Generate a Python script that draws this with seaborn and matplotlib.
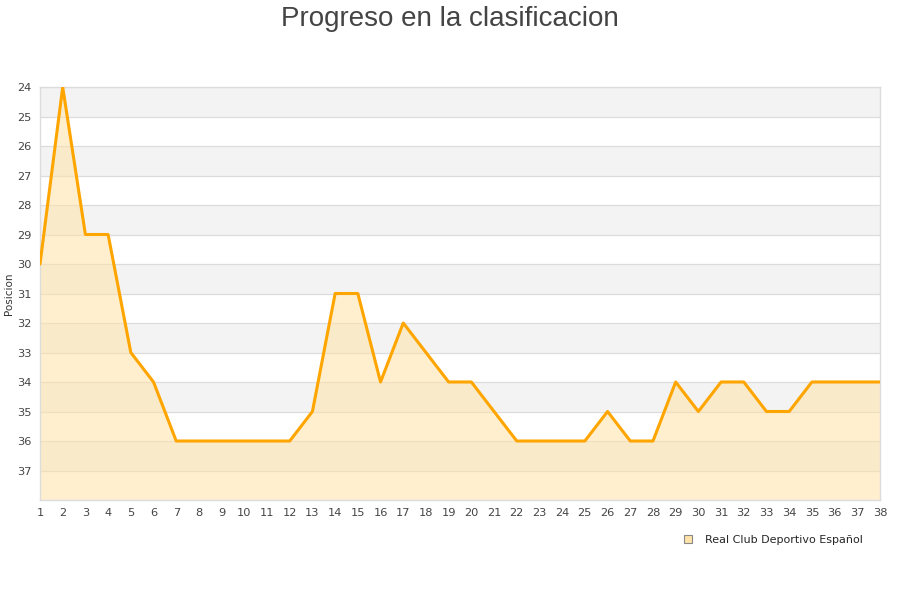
import matplotlib
matplotlib.use("Agg")
import matplotlib.pyplot as plt
import seaborn as sns
import pandas as pd
import numpy as np

jornadas = list(range(1, 39))
posicion = [30, 24, 29, 29, 33, 34, 36, 36, 36, 36, 36, 36, 35, 31, 31, 34, 32, 33, 34, 34,
            35, 36, 36, 36, 36, 35, 36, 36, 34, 35, 34, 34, 35, 35, 34, 34, 34, 34]
team = "Real Club Deportivo Español"
title = "Progreso en la clasificacion"
ylabel = "Posicion"
ytick_vals = list(range(24, 38))

df = pd.DataFrame({"Jornada": jornadas, "Posicion": posicion})

sns.set_theme(style="white")
plt.rcParams['font.family'] = ['DejaVu Sans']

fig = plt.figure(figsize=(9, 6), dpi=100)
ax = fig.add_axes([40/900, 1 - 500/600, 840/900, 413/600])

ymin, ymax = 24, 38
for i, y0 in enumerate(range(ymin, ymax)):
    if i % 2 == 0:
        ax.axhspan(y0, y0 + 1, color="#f3f3f3", zorder=0, lw=0)
    ax.axhline(y0, color="#dcdcdc", lw=0.9, zorder=1)

ax.fill_between(df["Jornada"], df["Posicion"], ymax, color="#ffe3a8", alpha=0.55, zorder=2, lw=0)
sns.lineplot(data=df, x="Jornada", y="Posicion", ax=ax, color="#ffa500", lw=2.2, zorder=3)

ax.set_xlim(1, 38)
ax.set_ylim(ymax, ymin)
ax.set_xticks(jornadas)
ax.set_xticklabels([str(j) for j in jornadas], fontsize=8.2, color="#444444")
ax.set_yticks(ytick_vals)
ax.set_yticklabels([str(v) for v in ytick_vals], fontsize=8.2, color="#444444")
ax.tick_params(axis="both", length=0, pad=6)
ax.set_xlabel("")
ax.set_ylabel(ylabel, fontsize=7.5, color="#333333")
ax.yaxis.set_label_coords(-26/840, 0.5)
for s in ax.spines.values():
    s.set_color("#dcdcdc")
    s.set_linewidth(1)

fig.suptitle(title, fontsize=20, color="#444444", family="Liberation Sans", y=0.99)

handle = plt.Line2D([], [], marker="s", ls="", markersize=6, markerfacecolor="#ffe3a8",
                    markeredgecolor="#888888", markeredgewidth=0.8)
fig.legend([handle], [team], loc="upper right", bbox_to_anchor=(868/900, 1 - 529/600),
           frameon=False, fontsize=8, handletextpad=0.5, borderpad=0)

fig.savefig("out.png", dpi=100, facecolor="white")
